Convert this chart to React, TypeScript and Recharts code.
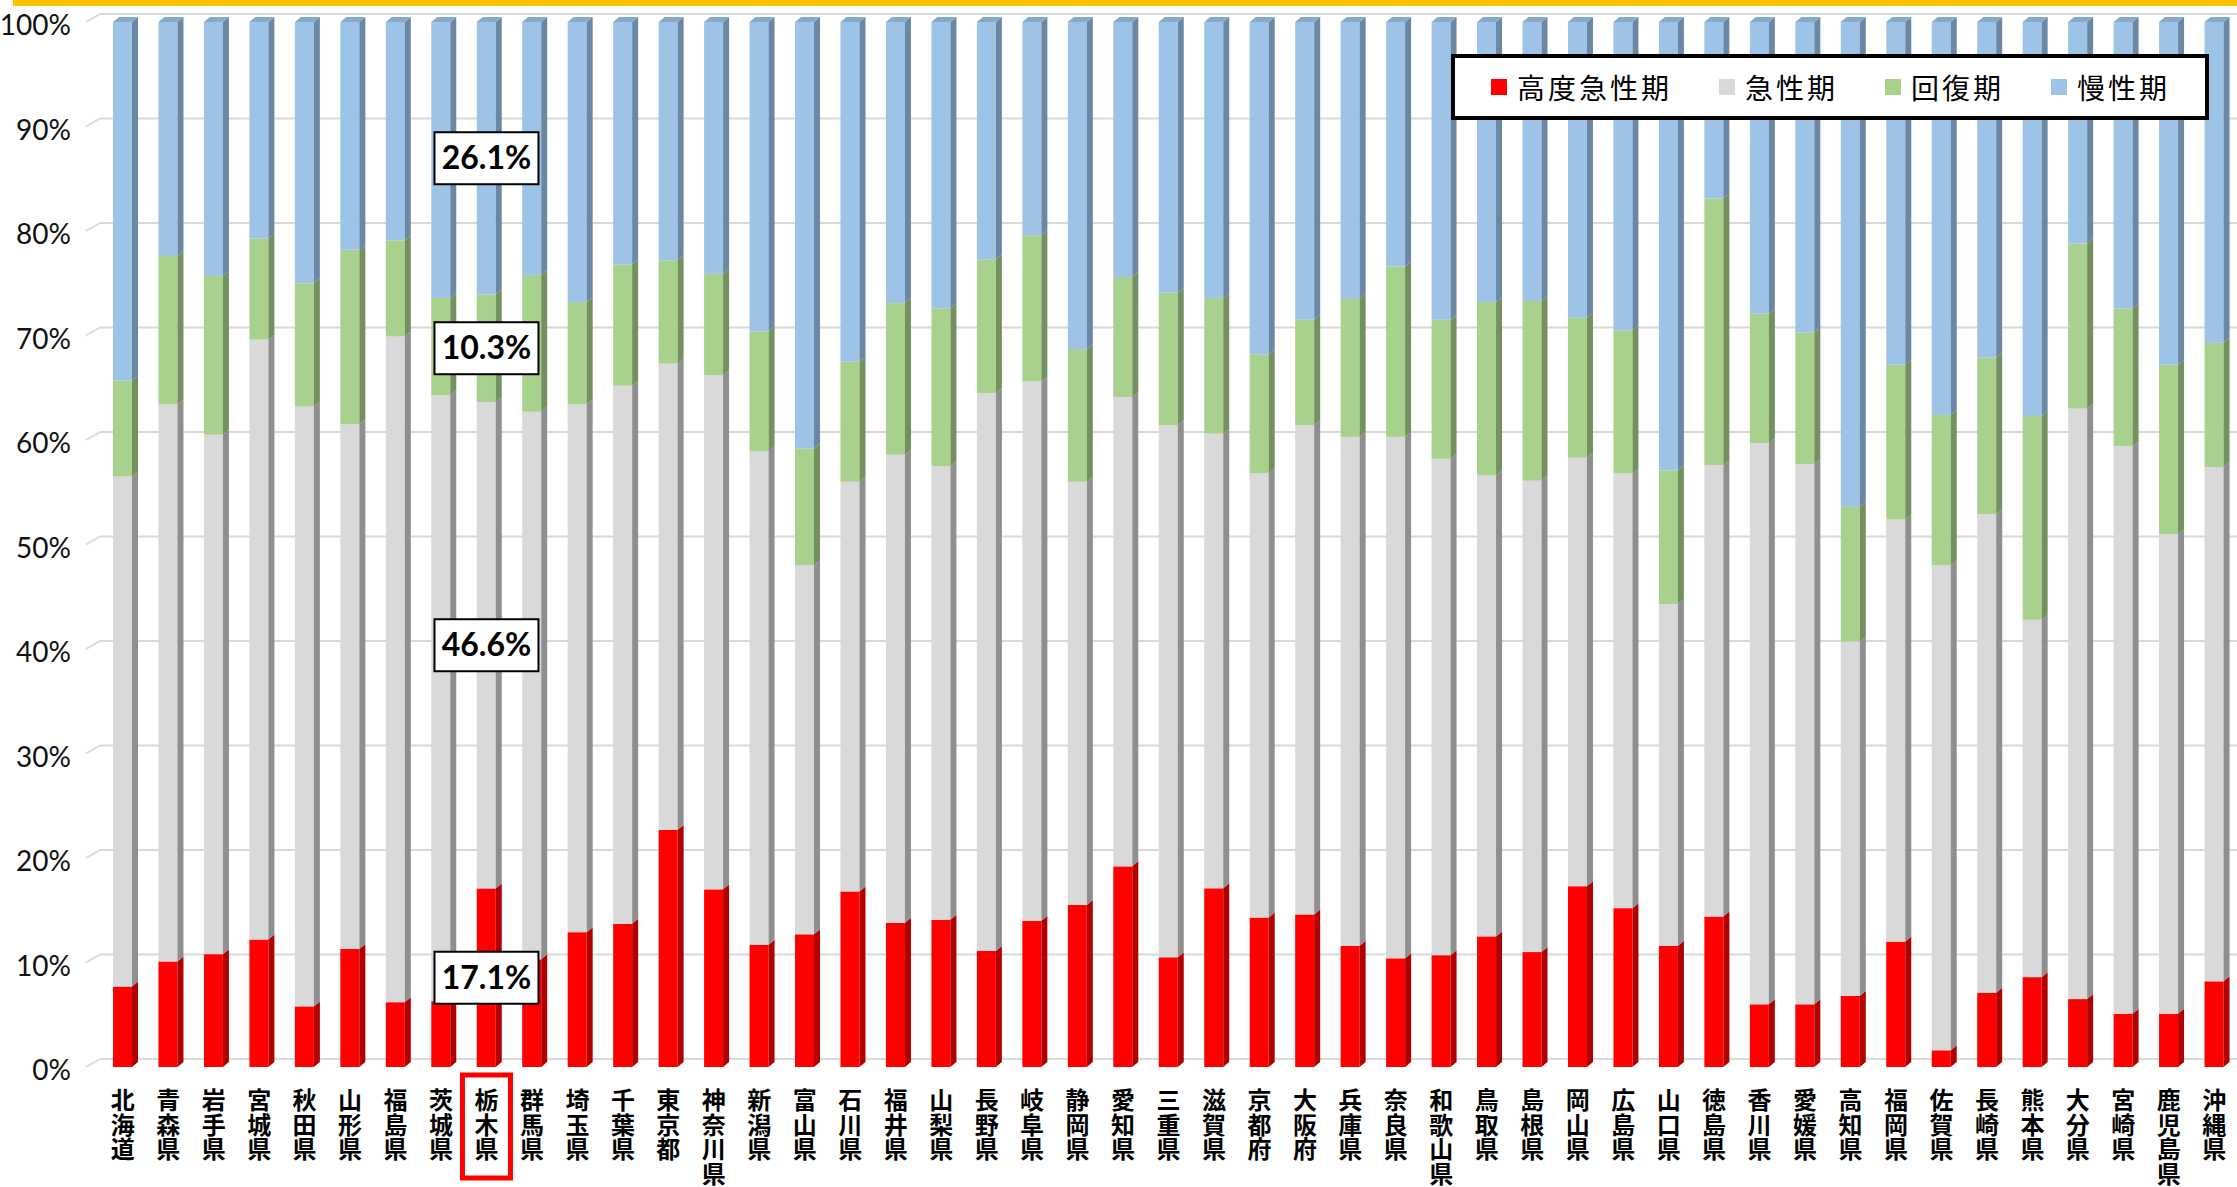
import {
  BarChart,
  Bar,
  XAxis,
  YAxis,
  CartesianGrid,
  Legend,
  ReferenceDot,
} from "recharts";

const PREFS = [
  "北海道", "青森県", "岩手県", "宮城県", "秋田県", "山形県", "福島県", "茨城県",
  "栃木県", "群馬県", "埼玉県", "千葉県", "東京都", "神奈川県", "新潟県", "富山県",
  "石川県", "福井県", "山梨県", "長野県", "岐阜県", "静岡県", "愛知県", "三重県",
  "滋賀県", "京都府", "大阪府", "兵庫県", "奈良県", "和歌山県", "鳥取県", "島根県",
  "岡山県", "広島県", "山口県", "徳島県", "香川県", "愛媛県", "高知県", "福岡県",
  "佐賀県", "長崎県", "熊本県", "大分県", "宮崎県", "鹿児島県", "沖縄県",
];

// 高度急性期
const HIGH_ACUTE = [
  7.7, 10.1, 10.8, 12.2, 5.8, 11.3, 6.2, 6.3, 17.1, 10.3, 12.9, 13.7, 22.7, 17.0, 11.7, 12.7,
  16.8, 13.8, 14.1, 11.1, 14.0, 15.5, 19.2, 10.5, 17.1, 14.3, 14.6, 11.6, 10.4, 10.7, 12.5, 11.0,
  17.3, 15.2, 11.6, 14.4, 6.0, 6.0, 6.8, 12.0, 1.6, 7.1, 8.6, 6.5, 5.1, 5.1, 8.2,
];
// 急性期
const ACUTE = [
  48.8, 53.3, 49.7, 57.4, 57.4, 50.2, 63.7, 58.0, 46.6, 52.4, 50.5, 51.5, 44.6, 49.2, 47.2, 35.3,
  39.2, 44.8, 43.4, 53.4, 51.6, 40.5, 44.9, 50.9, 43.5, 42.5, 46.8, 48.7, 49.9, 47.5, 44.1, 45.1,
  41.0, 41.6, 32.7, 43.2, 53.7, 51.7, 33.9, 40.4, 46.4, 45.8, 34.2, 56.5, 54.3, 45.9, 49.2,
];
// 回復期
const RECOVERY = [
  9.2, 14.2, 15.2, 9.7, 11.8, 16.7, 9.2, 9.3, 10.3, 13.1, 9.8, 11.6, 9.9, 9.7, 11.5, 11.2,
  11.5, 14.5, 15.1, 12.8, 14.0, 12.7, 11.5, 12.7, 13.0, 11.4, 10.1, 13.2, 16.3, 13.3, 16.6, 17.2,
  13.4, 13.7, 12.8, 25.5, 12.4, 12.6, 12.9, 14.8, 14.4, 15.0, 19.5, 15.8, 13.2, 16.2, 11.9,
];
// 慢性期
const CHRONIC = [
  34.3, 22.4, 24.3, 20.7, 25.0, 21.8, 20.9, 26.4, 26.1, 24.2, 26.8, 23.2, 22.8, 24.1, 29.6, 40.8,
  32.5, 26.9, 27.4, 22.7, 20.4, 31.3, 24.4, 25.9, 26.4, 31.8, 28.5, 26.5, 23.4, 28.5, 26.8, 26.7,
  28.3, 29.5, 42.9, 16.9, 27.9, 29.7, 46.4, 32.8, 37.6, 32.1, 37.7, 21.2, 27.4, 32.8, 30.7,
];

const Y_TICKS = [0, 10, 20, 30, 40, 50, 60, 70, 80, 90, 100];
const HIGHLIGHT = "栃木県";

const data = PREFS.map((name, i) => ({
  name,
  high: HIGH_ACUTE[i],
  acute: ACUTE[i],
  recovery: RECOVERY[i],
  chronic: CHRONIC[i],
}));

const W = 2237;
const H = 1187;
const PLOT_LEFT = 100;
const PLOT_TOP = 22;
const X_AXIS_H = 120;
const PLOT_H = H - PLOT_TOP - X_AXIS_H;
const GRID_SHIFT = 8;
const DEPTH = 6;
const RISE = 5;

const SERIES = [
  { key: "high", name: "高度急性期", fill: "#FF0000", side: "#B00000" },
  { key: "acute", name: "急性期", fill: "#D9D9D9", side: "#8F8F8F" },
  { key: "recovery", name: "回復期", fill: "#A9D18E", side: "#73905E" },
  { key: "chronic", name: "慢性期", fill: "#9DC3E6", side: "#6A88A6", top: "#86A9CC" },
];

function make3D(side: string, top?: string) {
  return (p: any) => {
    const { x, y, width: w, height: h, fill } = p;
    if (w == null || h == null || isNaN(y)) return <g />;
    return (
      <g>
        <rect x={x} y={y} width={w} height={h} fill={fill} />
        <polygon
          points={`${x + w},${y} ${x + w + DEPTH},${y - RISE} ${x + w + DEPTH},${y + h - RISE} ${x + w},${y + h}`}
          fill={side}
        />
        {top && (
          <polygon
            points={`${x},${y} ${x + DEPTH},${y - RISE} ${x + w + DEPTH},${y - RISE} ${x + w},${y}`}
            fill={top}
          />
        )}
      </g>
    );
  };
}

function YTick({ x, y, payload }: any) {
  return (
    <g>
      <line x1={x - 14} y1={y} x2={x} y2={y - GRID_SHIFT} stroke="#D9D9D9" strokeWidth={2} />
      <text
        x={x - 29}
        y={y}
        dy={13}
        textAnchor="end"
        fontFamily="Lato, 'Liberation Sans', sans-serif"
        fontSize={28}
        fill="#111"
      >
        {Math.round(payload.value * 100)}%
      </text>
    </g>
  );
}

// labels are stacked one character per line, as in vertical Japanese text
function XTick({ x, y, payload }: any) {
  return (
    <g>
      <text
        x={x}
        y={y + 21}
        style={{ writingMode: "vertical-rl", letterSpacing: 0.5 }}
        fontFamily="'Noto Sans CJK JP', sans-serif"
        fontWeight={700}
        fontSize={24}
        fill="#000"
      >
        {payload.value}
      </text>
      {payload.value === HIGHLIGHT && (
        <rect x={x - 24} y={y + 8} width={48} height={103} fill="none" stroke="#FF0000" strokeWidth={5} />
      )}
    </g>
  );
}

function LegendBox() {
  return (
    <div
      style={{
        width: 758,
        height: 66,
        boxSizing: "border-box",
        border: "4px solid #000",
        background: "#fff",
        display: "flex",
        alignItems: "center",
        paddingLeft: 36,
        fontFamily: "'Noto Sans CJK JP', sans-serif",
        fontSize: 28,
        letterSpacing: 3,
        color: "#000",
        whiteSpace: "nowrap",
      }}
    >
      {SERIES.map((s) => (
        <div key={s.key} style={{ display: "flex", alignItems: "center", marginRight: 47, flexShrink: 0 }}>
          <span style={{ width: 16, height: 16, background: s.fill, marginRight: 10, flexShrink: 0 }} />
          <span>{s.name}</span>
        </div>
      ))}
    </div>
  );
}

const hi = PREFS.indexOf(HIGHLIGHT);
const hiValues = [HIGH_ACUTE[hi], ACUTE[hi], RECOVERY[hi], CHRONIC[hi]];
const hiTotal = hiValues.reduce((a, b) => a + b, 0);
const callouts = hiValues.map((v, i) => {
  const below = hiValues.slice(0, i).reduce((a, b) => a + b, 0);
  return { value: v, mid: (below + v / 2) / hiTotal };
});

function Callout(label: string) {
  return (p: any) => {
    const { cx, cy } = p;
    return (
      <g>
        <rect x={cx - 52} y={cy - 26} width={104} height={52} fill="#fff" stroke="#000" strokeWidth={2} />
        <text
          x={cx}
          y={cy + 11}
          textAnchor="middle"
          fontFamily="Lato, 'Liberation Sans', sans-serif"
          fontWeight={700}
          fontSize={32}
          fill="#000"
        >
          {label}
        </text>
      </g>
    );
  };
}

export default function App() {
  return (
    <div style={{ position: "absolute", left: 0, top: 0, width: W, height: H, background: "#fff" }}>
      <div style={{ position: "absolute", left: 13, top: 0, width: W - 13, height: 6, background: "#FFC000" }} />
      <BarChart
        width={W}
        height={H}
        data={data}
        stackOffset="expand"
        barSize={19}
        margin={{ top: PLOT_TOP, right: 0, left: 0, bottom: 0 }}
      >
        <CartesianGrid
          vertical={false}
          stroke="#D9D9D9"
          strokeWidth={2}
          horizontalCoordinatesGenerator={(props: any) => {
            const top = props?.offset?.top ?? PLOT_TOP;
            const h = props?.offset?.height ?? PLOT_H;
            return Y_TICKS.map((t) => top + h * (1 - t / 100) - GRID_SHIFT);
          }}
        />
        <XAxis
          dataKey="name"
          interval={0}
          height={X_AXIS_H}
          axisLine={false}
          tickLine={false}
          tickSize={0}
          tickMargin={0}
          tick={<XTick />}
        />
        <YAxis
          width={PLOT_LEFT}
          domain={[0, 1]}
          ticks={Y_TICKS.map((t) => t / 100)}
          axisLine={false}
          tickLine={false}
          tickSize={0}
          tickMargin={0}
          tick={<YTick />}
        />
        <Legend
          layout="horizontal"
          verticalAlign="middle"
          align="center"
          wrapperStyle={{ position: "absolute", top: 54, left: 1451, width: 758 }}
          content={<LegendBox />}
        />
        {SERIES.map((s) => (
          <Bar
            key={s.key}
            dataKey={s.key}
            name={s.name}
            stackId="a"
            fill={s.fill}
            isAnimationActive={false}
            shape={make3D(s.side, s.top)}
          />
        ))}
        {callouts.map((c, i) => (
          <ReferenceDot
            key={i}
            x={HIGHLIGHT}
            y={c.mid}
            r={1}
            ifOverflow="visible"
            shape={Callout(`${c.value.toFixed(1)}%`)}
          />
        ))}
      </BarChart>
    </div>
  );
}
